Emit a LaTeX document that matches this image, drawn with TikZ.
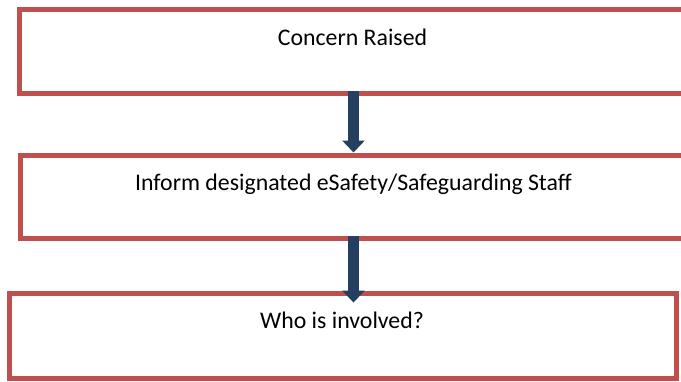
\documentclass[tikz,border=0pt]{standalone}
\usepackage{fontspec}
\setmainfont{Carlito}
\usetikzlibrary{arrows.meta, positioning}
\definecolor{boxred}{HTML}{C0504D}
\definecolor{flowblue}{HTML}{243F60}

\begin{document}
\begin{tikzpicture}
  [x=1pt, y=-1pt,
   stage/.style={rectangle, draw=boxred, line width=5pt, fill=white, inner sep=0pt,
     minimum width=667pt},
   caption/.style={anchor=base, font=\fontsize{23.8}{28}\selectfont, inner sep=0pt},
   flow/.style={draw=flowblue, line width=11pt, -{Triangle[width=22pt, length=12pt]}}]
  \useasboundingbox (0,0) rectangle (681,381);
  \clip (0,0) rectangle (681,381);
  \node (concern) at (352.5, 51.4) [stage, minimum height=84.7pt] {};
  \node (inform) at (353.5, 197) [stage, minimum height=83pt] {};
  \node (involved) at (342.5, 335.8) [stage, minimum height=84.5pt] {};
  \node (tconcern) at (352.5, 45) [caption] {Concern Raised};
  \node (tinform) at (353.5, 190) [caption] {Inform designated eSafety/Safeguarding Staff};
  \node (tinvolved) at (342, 328) [caption] {Who is involved?};
  \coordinate (axis) at (353.5, 0);
  \draw [flow] ([yshift=5.7pt]concern.south -| axis) to ([yshift=0.5pt]inform.north -| axis);
  \draw [flow] ([yshift=5.2pt]inform.south -| axis) to ([yshift=-11.5pt]involved.north -| axis);
\end{tikzpicture}
\end{document}
